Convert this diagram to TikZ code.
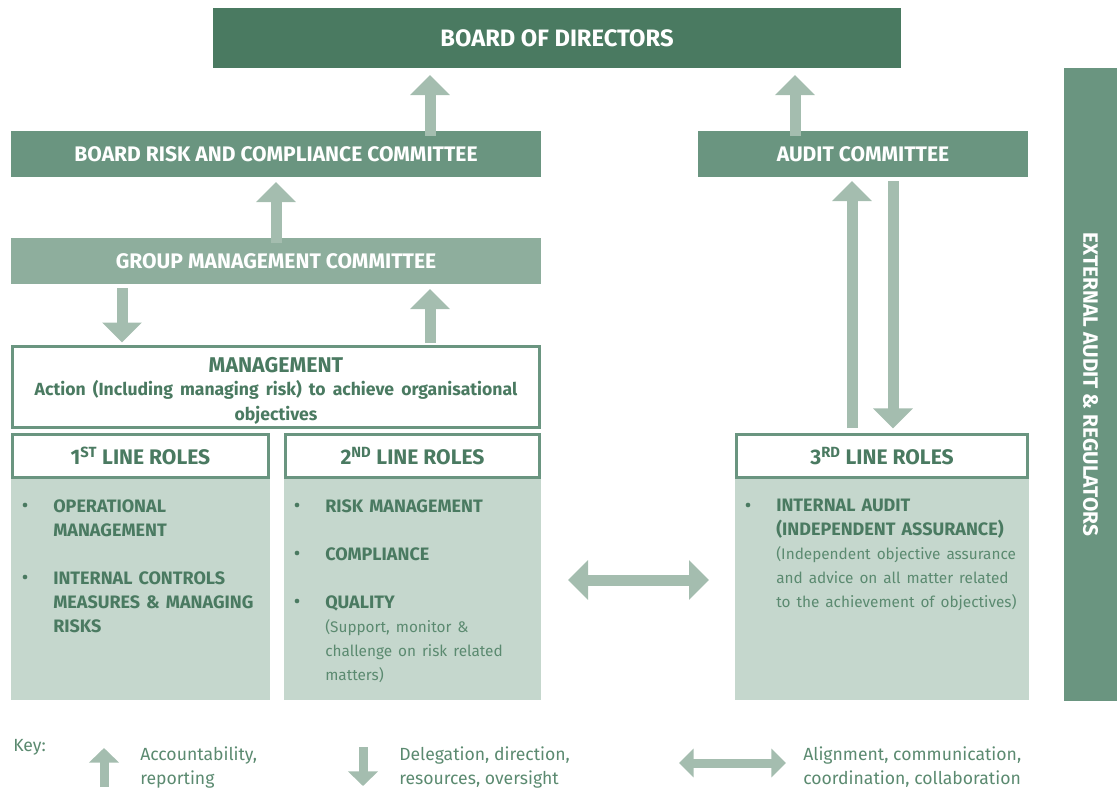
\documentclass[tikz,border=0pt]{standalone}
\usepackage{fontspec}
\setmainfont{Fira Sans}
\usetikzlibrary{arrows.meta, positioning, calc}
\definecolor{boardgreen}{HTML}{4A7A61}
\definecolor{midgreen}{HTML}{6A9580}
\definecolor{lightgreen}{HTML}{8EAE9D}
\definecolor{arrowgreen}{HTML}{A4BDAF}
\definecolor{palegreen}{HTML}{C5D7CD}
\definecolor{textgreen}{HTML}{4A7A61}
\definecolor{softtext}{HTML}{5B8A70}
\newcommand{\plainfont}{\mdseries\fontsize{11.5}{18}\selectfont\color{softtext}}

\begin{document}
\begin{tikzpicture}[x=0.75pt, y=-0.75pt,
  titlebar/.style={rectangle, inner sep=0pt, outer sep=0pt, text=white, font=\bfseries\fontsize{15.8}{19}\selectfont},
  rolehead/.style={rectangle, draw=midgreen, line width=2pt, fill=white, inner sep=0pt, outer sep=0pt, text=textgreen, font=\bfseries\fontsize{15.8}{19}\selectfont},
  rolebody/.style={rectangle, fill=palegreen, inner sep=0pt, outer sep=0pt},
  roleitem/.style={anchor=north west, inner sep=0pt, align=left, text width=#1, text=textgreen, font=\bfseries\fontsize{13.5}{18}\selectfont},
  dot/.style={circle, fill=textgreen, inner sep=0pt, minimum size=3.5pt},
  note/.style={anchor=west, inner sep=0pt, align=left, text=softtext, font=\fontsize{13.2}{18}\selectfont},
  bigarr/.style={draw=arrowgreen, line width=8.25pt, -{Triangle[width=29pt, length=15pt]}},
  bigboth/.style={draw=arrowgreen, line width=8.25pt, {Triangle[width=29pt, length=15pt]}-{Triangle[width=29pt, length=15pt]}},
  keyarr/.style={draw=arrowgreen, line width=6.75pt, -{Triangle[width=22pt, length=11pt]}},
  keyboth/.style={draw=arrowgreen, line width=6.75pt, {Triangle[width=21pt, length=11pt]}-{Triangle[width=21pt, length=11pt]}}
]
\useasboundingbox (0,0) rectangle (1117,790);

% Board and committees
\node[titlebar, fill=boardgreen, minimum width=516pt, minimum height=45pt, font=\bfseries\fontsize{17.8}{21}\selectfont] (bod) at (557,38) {BOARD OF DIRECTORS};
\node[titlebar, fill=midgreen, minimum width=397.5pt, minimum height=34.5pt] (brcc) at (276,154) {BOARD RISK AND COMPLIANCE COMMITTEE};
\node[titlebar, fill=midgreen, minimum width=247.5pt, minimum height=34.5pt] (ac) at (863,154) {AUDIT COMMITTEE};
\node[titlebar, fill=lightgreen, minimum width=397.5pt, minimum height=34.5pt] (gmc) at (276,261) {GROUP MANAGEMENT COMMITTEE};
\node[titlebar, fill=midgreen, minimum width=474.75pt, minimum height=39.75pt, rotate=-90, font=\bfseries\fontsize{15.6}{19}\selectfont] (ext) at (1090.5,384.5) {EXTERNAL AUDIT \& REGULATORS};

% Management
\node[rolehead, minimum width=395pt, minimum height=60.75pt, text width=390pt, align=center, font=\bfseries\fontsize{16}{19}\selectfont] (mgmt) at (276,387)
  {\rule{0pt}{17pt}MANAGEMENT\\[0.5pt]{\fontsize{13.2}{16.5}\selectfont Action (Including managing risk) to achieve organisational\\objectives}};

% Role boxes
\node[rolebody, minimum width=194.25pt, minimum height=165.75pt] (body1) at (140.5,589.5) {};
\node[rolebody, minimum width=192.75pt, minimum height=165.75pt] (body2) at (412.5,589.5) {};
\node[rolebody, minimum width=220.5pt, minimum height=165.75pt] (body3) at (882,589.5) {};
\node[rolehead, minimum width=192pt, minimum height=32.5pt] (line1) at (140.5,456) {1\textsuperscript{ST} LINE ROLES};
\node[rolehead, minimum width=190.5pt, minimum height=32.5pt] (line2) at (412.5,456) {2\textsuperscript{ND} LINE ROLES};
\node[rolehead, minimum width=218.25pt, minimum height=32.5pt] (line3) at (882,456) {3\textsuperscript{RD} LINE ROLES};

% 1st line items
\node[roleitem=170pt] (opm) at (53,499) {OPERATIONAL\\MANAGEMENT};
\node[roleitem=170pt] (icm) at (53,571) {INTERNAL CONTROLS\\MEASURES \& MANAGING\\RISKS};
\node[dot] (d11) at ($(opm.north west)+(-28,6)$) {};
\node[dot] (d12) at ($(icm.north west)+(-28,6)$) {};

% 2nd line items
\node[roleitem=170pt] (rm) at (325,499) {RISK MANAGEMENT};
\node[roleitem=170pt] (comp) at (325,547) {COMPLIANCE};
\node[roleitem=170pt] (qual) at (325,595) {QUALITY\\\plainfont(Support, monitor \&\\challenge on risk related\\matters)};
\node[dot] (d21) at ($(rm.north west)+(-28,6)$) {};
\node[dot] (d22) at ($(comp.north west)+(-28,6)$) {};
\node[dot] (d23) at ($(qual.north west)+(-28,6)$) {};

% 3rd line items
\node[roleitem=200pt] (ia) at (776,499) {INTERNAL AUDIT\\(INDEPENDENT ASSURANCE)\\\plainfont(Independent objective assurance\\and advice on all matter related\\to the achievement of objectives)};
\node[dot] (d31) at ($(ia.north west)+(-28,6)$) {};

% Arrows between levels
\coordinate (r1) at ($(brcc.north)+(154,5)$);
\coordinate (r2) at ($(ac.north)+(-68,5)$);
\coordinate (r3) at ($(gmc.north)+(0,5)$);
\coordinate (r4) at ($(gmc.south)+(-154,4)$);
\coordinate (r5) at ($(mgmt.north)+(154,-4)$);
\coordinate (r6) at ($(line3.north)+(-30,-6)$);
\coordinate (r7) at ($(ac.south)+(30,4)$);
\draw[bigarr] (r1) -- ($(r1 |- bod.south)+(0,7)$);
\draw[bigarr] (r2) -- ($(r2 |- bod.south)+(0,7)$);
\draw[bigarr] (r3) -- ($(r3 |- brcc.south)+(0,5)$);
\draw[bigarr] (r4) -- ($(r4 |- mgmt.north)+(0,-4)$);
\draw[bigarr] (r5) -- ($(r5 |- gmc.south)+(0,5)$);
\draw[bigarr] (r6) -- ($(r6 |- ac.south)+(0,4)$);
\draw[bigarr] (r7) -- ($(r7 |- line3.north)+(0,-6)$);
\draw[bigboth] ($(body2.east |- 0,580)+(27,0)$) -- ($(body3.west |- 0,580)+(-26,0)$);

% Key
\node[note] (key) at (13,747) {Key:};
\coordinate (k1) at (104,787);
\coordinate (k2) at (363,747);
\coordinate (k3) at (679,763);
\draw[keyarr] (k1) -- ++(0,-39);
\draw[keyarr] (k2) -- ++(0,39);
\draw[keyboth] (k3) -- ++(107,0);
\node[note] (keyup) at (140,767) {Accountability,\\reporting};
\node[note] (keydown) at (399,767) {Delegation, direction,\\resources, oversight};
\node[note] (keyboth) at (803,767) {Alignment, communication,\\coordination, collaboration};
\end{tikzpicture}
\end{document}
